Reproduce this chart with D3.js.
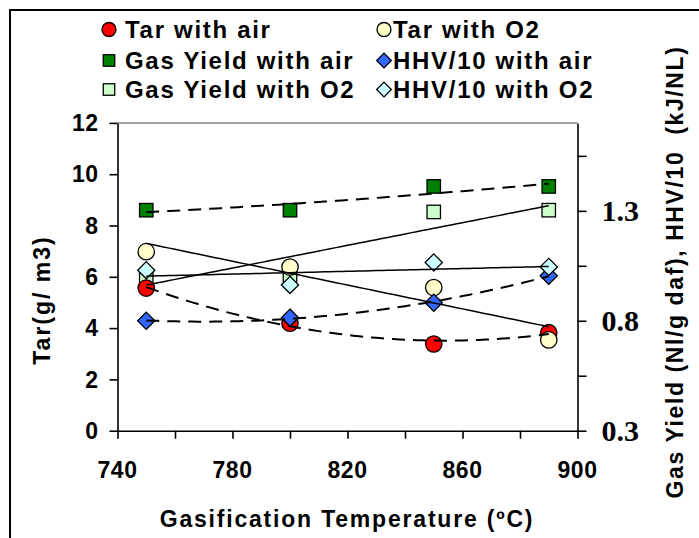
<!DOCTYPE html>
<html>
<head>
<meta charset="utf-8">
<script src="https://cdn.jsdelivr.net/npm/d3@7"></script>
<style>
  html, body { margin: 0; padding: 0; background: #fff; }
  svg { display: block; }
  .sans { font-family: "Liberation Sans", Arial, sans-serif; font-weight: bold; }
  .serif { font-family: "Liberation Serif", "Times New Roman", serif; font-weight: bold; }
</style>
</head>
<body>
<svg id="chart" width="699" height="538"></svg>
<script>
// ---- data ----
const temps = [750, 800, 850, 890];
const tarAir = [5.56, 4.19, 3.38, 3.82];
const tarO2 = [6.98, 6.38, 5.58, 3.54];
const gasAir = [1.303, 1.303, 1.411, 1.411];
const gasO2 = [1.0, 1.0, 1.295, 1.303];
const hhvAir = [0.80, 0.814, 0.882, 1.005];
const hhvO2 = [1.03, 0.963, 1.065, 1.045];

const xTicks = [740, 760, 780, 800, 820, 840, 860, 880, 900];
const xTickLabels = [740, 780, 820, 860, 900];
const yLeftTicks = [0, 2, 4, 6, 8, 10, 12];
const yRightTicks = [0.3, 0.55, 0.8, 1.05, 1.3, 1.55];
const yRightTickLabels = [0.3, 0.8, 1.3];

const legendLabels = ["Tar with air", "Tar with O2", "Gas Yield with air", "HHV/10 with air", "Gas Yield with O2", "HHV/10 with O2"];

// ---- series definitions ----
const series = [
  { name: "Gas Yield with O2", values: gasO2, axis: "R", shape: "square", fill: "#CCFFCC", trend: 1, dash: null },
  { name: "Gas Yield with air", values: gasAir, axis: "R", shape: "square", fill: "#008000", trend: 2, dash: "13,8" },
  { name: "Tar with air", values: tarAir, axis: "L", shape: "circle", fill: "#FF0000", trend: 2, dash: "13,8" },
  { name: "Tar with O2", values: tarO2, axis: "L", shape: "circle", fill: "#FFFFCC", trend: 1, dash: null },
  { name: "HHV/10 with air", values: hhvAir, axis: "R", shape: "diamond", fill: "#3366FF", trend: 2, dash: "13,8" },
  { name: "HHV/10 with O2", values: hhvO2, axis: "R", shape: "diamond", fill: "#CCFFFF", trend: 1, dash: null }
];

const svg = d3.select("#chart");
svg.append("rect").attr("width", 699).attr("height", 538).attr("fill", "#fff");

// outer frame (extends beyond the picture at right and bottom)
svg.append("rect").attr("x", 10).attr("y", 10).attr("width", 760).attr("height", 600)
  .attr("fill", "none").attr("stroke", "#000").attr("stroke-width", 2);

const x = d3.scaleLinear().domain([740, 900]).range([117.5, 577.5]);
const yL = d3.scaleLinear().domain([0, 12]).range([430.7, 122.9]);
const yR = d3.scaleLinear().domain([0.3, 1.7]).range([430.7, 122.9]);

// plot-area top border (grey)
svg.append("line").attr("x1", x(740)).attr("x2", x(900)).attr("y1", yL(12)).attr("y2", yL(12))
  .attr("stroke", "#808080").attr("stroke-width", 1.5);

// axes
const axisStyle = g => {
  g.select(".domain").attr("stroke", "#000").attr("stroke-width", 1.6);
  g.selectAll(".tick line").attr("stroke", "#000").attr("stroke-width", 1.6);
};

const gx = svg.append("g").attr("transform", `translate(0,${yL(0)})`)
  .call(d3.axisBottom(x).tickValues(xTicks).tickSize(8).tickSizeOuter(0).tickFormat(""));
gx.call(axisStyle);

const gl = svg.append("g").attr("transform", `translate(${x(740)},0)`)
  .call(d3.axisLeft(yL).tickValues(yLeftTicks).tickSize(8).tickSizeOuter(0).tickFormat(""));
gl.call(axisStyle);

const gr = svg.append("g").attr("transform", `translate(${x(900)},0)`)
  .call(d3.axisRight(yR).tickValues(yRightTicks).tickSize(9).tickSizeOuter(0).tickFormat(""));
gr.call(axisStyle);

// tick labels
svg.append("g").selectAll("text").data(xTickLabels).join("text")
  .attr("class", "sans").attr("font-size", 23).attr("letter-spacing", 0.5)
  .attr("x", d => x(d)).attr("y", yL(0) + 47).attr("text-anchor", "middle")
  .text(d => d);

svg.append("g").selectAll("text").data(yLeftTicks).join("text")
  .attr("class", "sans").attr("font-size", 23).attr("letter-spacing", 0.5)
  .attr("x", x(740) - 19).attr("y", d => yL(d)).attr("dy", "0.36em").attr("text-anchor", "end")
  .text(d => d);

svg.append("g").selectAll("text").data(yRightTickLabels).join("text")
  .attr("class", "serif").attr("font-size", 30)
  .attr("x", x(900) + 24).attr("y", d => yR(d)).attr("dy", "0.34em").attr("text-anchor", "start")
  .text(d => d3.format(".1f")(d));

// axis titles
svg.append("text").attr("class", "sans").attr("font-size", 23).attr("letter-spacing", 1.8)
  .attr("x", 347).attr("y", 527).attr("text-anchor", "middle")
  .text("Gasification Temperature (ºC)");

svg.append("text").attr("class", "sans").attr("font-size", 23).attr("letter-spacing", 2)
  .attr("transform", "translate(50,300) rotate(-90)").attr("text-anchor", "middle")
  .text("Tar(g/ m3)");

svg.append("text").attr("class", "sans").attr("font-size", 23).attr("letter-spacing", 1.6)
  .attr("transform", "translate(683,272) rotate(-90)").attr("text-anchor", "middle")
  .attr("xml:space", "preserve").style("white-space", "pre")
  .text("Gas Yield (Nl/g daf), HHV/10  (kJ/NL)");

// ---- markers ----
function marker(g, shape, fill, cx, cy, size) {
  if (shape === "circle") {
    g.append("circle").attr("cx", cx).attr("cy", cy).attr("r", size)
      .attr("fill", fill).attr("stroke", "#000").attr("stroke-width", 1.3);
  } else if (shape === "square") {
    const s = size * 0.82;
    g.append("rect").attr("x", cx - s).attr("y", cy - s).attr("width", 2 * s).attr("height", 2 * s)
      .attr("fill", fill).attr("stroke", "#000").attr("stroke-width", 1.3);
  } else {
    const s = size * 1.05;
    g.append("path").attr("d", `M${cx},${cy - s}L${cx + s},${cy}L${cx},${cy + s}L${cx - s},${cy}Z`)
      .attr("fill", fill).attr("stroke", "#000").attr("stroke-width", 1.3);
  }
}

const markG = svg.append("g");
series.forEach(s => {
  const yS = s.axis === "L" ? yL : yR;
  temps.forEach((t, i) => marker(markG, s.shape, s.fill, x(t), yS(s.values[i]), 8.2));
});

// ---- trendlines (least squares polynomial fit of the series) ----
function polyfit(xs, ys, order) {
  const xm = d3.mean(xs);
  const n = order + 1;
  const A = Array.from({ length: n }, () => new Array(n + 1).fill(0));
  xs.forEach((xv, k) => {
    const t = (xv - xm) / 50;
    for (let i = 0; i < n; i++) {
      for (let j = 0; j < n; j++) A[i][j] += Math.pow(t, i + j);
      A[i][n] += Math.pow(t, i) * ys[k];
    }
  });
  for (let i = 0; i < n; i++) {
    let p = i;
    for (let r = i + 1; r < n; r++) if (Math.abs(A[r][i]) > Math.abs(A[p][i])) p = r;
    [A[i], A[p]] = [A[p], A[i]];
    for (let r = 0; r < n; r++) {
      if (r === i) continue;
      const f = A[r][i] / A[i][i];
      for (let c = i; c <= n; c++) A[r][c] -= f * A[i][c];
    }
  }
  const coef = A.map((row, i) => row[n] / row[i]);
  return xv => { const t = (xv - xm) / 50; return coef.reduce((acc, c, i) => acc + c * Math.pow(t, i), 0); };
}

const lineG = svg.append("g");
series.forEach(s => {
  const yS = s.axis === "L" ? yL : yR;
  const f = polyfit(temps, s.values, s.trend);
  const xs = d3.range(temps[0], temps[temps.length - 1] + 0.001, 2);
  const line = d3.line().x(d => x(d)).y(d => yS(f(d)));
  lineG.append("path").attr("d", line(xs)).attr("fill", "none")
    .attr("stroke", "#000").attr("stroke-width", s.dash ? 2 : 1.5)
    .attr("stroke-dasharray", s.dash);
});

// ---- legend ----
const legendRows = [29.5, 60.5, 89.5];
const legendCols = [{ mx: 109, tx: 125 }, { mx: 384, tx: 393 }];
const legG = svg.append("g");
legendLabels.forEach((lab, i) => {
  const s = series.find(d => d.name === lab);
  const col = legendCols[i % 2], row = legendRows[Math.floor(i / 2)];
  marker(legG, s.shape, s.fill, col.mx, row, 7);
  legG.append("text").attr("class", "sans").attr("font-size", 24).attr("letter-spacing", 1.7)
    .attr("x", col.tx).attr("y", row).attr("dy", "0.36em").text(lab);
});
</script>
</body>
</html>
